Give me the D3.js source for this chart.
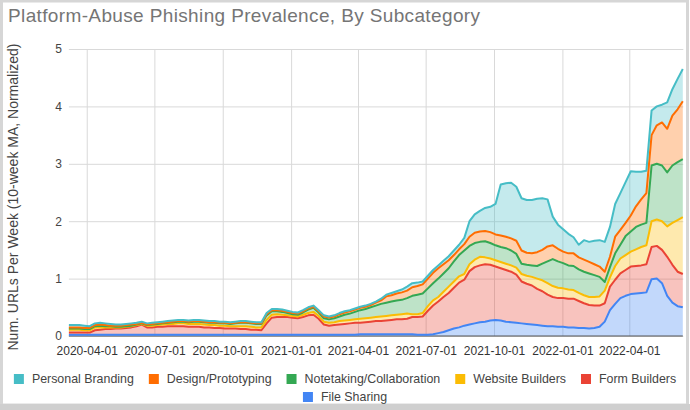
<!DOCTYPE html>
<html>
<head>
<meta charset="utf-8">
<script src="https://cdn.jsdelivr.net/npm/d3@7"></script>
<style>
body{margin:0;background:#fff}
svg{display:block}
text{font-family:Arial,"Liberation Sans",sans-serif}
</style>
</head>
<body>
<svg id="c" width="690" height="410"></svg>
<script>
// ---- data (weekly, 10-week MA, normalized) ----
const firstWeek = "2020-03-08";
const xTickLabels = ["2020-04-01","2020-07-01","2020-10-01","2021-01-01","2021-04-01","2021-07-01","2021-10-01","2022-01-01","2022-04-01"];
const yTickValues = [0,1,2,3,4,5];
const seriesNames = ["File Sharing","Form Builders","Website Builders","Notetaking/Collaboration","Design/Prototyping","Personal Branding"];

const fileSharing = [
.02,.02,.02,.02,.02,.02,.02,.02,.02,.02,
.02,.02,.02,.02,.02,.02,.02,.02,.02,.02,
.02,.02,.02,.02,.02,.02,.02,.02,.02,.02,
.02,.02,.02,.02,.02,.02,.02,.02,.02,.02,
.02,.02,.02,.02,.02,.02,.02,.02,.02,.02,
.02,.02,.02,.02,.02,.02,.03,.03,.03,.03,
.03,.03,.03,.03,.03,.03,.03,.02,.02,.02,
.03,.05,.07,.10,.13,.15,.18,.20,.22,.24,
.25,.27,.28,.27,.25,.24,.23,.22,.21,.20,
.19,.18,.17,.17,.16,.16,.15,.15,.14,.14,
.13,.14,.16,.25,.45,.56,.66,.70,.73,.74,
.75,.76,.99,1.00,.92,.70,.58,.52,.50];

const formBuilders = [
.04,.04,.04,.04,.04,.08,.09,.10,.10,.11,
.11,.12,.13,.15,.18,.13,.13,.14,.14,.15,
.15,.15,.15,.14,.14,.14,.13,.13,.12,.12,
.11,.11,.11,.10,.10,.09,.09,.08,.20,.30,
.31,.31,.31,.30,.29,.31,.34,.35,.28,.18,
.16,.17,.18,.19,.20,.21,.20,.21,.22,.23,
.23,.24,.25,.26,.26,.27,.30,.31,.32,.42,
.50,.55,.61,.65,.71,.78,.80,.93,.98,.99,
1.00,.97,.93,.91,.90,.88,.84,.73,.70,.68,
.63,.60,.55,.51,.50,.50,.50,.50,.47,.43,
.41,.39,.37,.32,.41,.42,.43,.45,.48,.48,
.48,.49,.56,.57,.58,.68,.66,.60,.58];

const websiteBuilders = [
.05,.05,.05,.04,.04,.05,.04,.03,.03,.02,
.02,.02,.02,.02,.01,.03,.03,.03,.04,.04,
.04,.05,.05,.05,.05,.05,.05,.04,.05,.04,
.05,.04,.04,.05,.05,.05,.04,.05,.06,.05,
.05,.04,.03,.03,.03,.04,.04,.05,.05,.05,
.05,.05,.06,.06,.06,.06,.07,.07,.07,.07,
.08,.08,.08,.08,.09,.09,.05,.05,.06,.08,
.09,.08,.09,.11,.11,.11,.10,.12,.13,.15,
.12,.11,.11,.11,.11,.11,.12,.13,.14,.15,
.18,.19,.20,.19,.18,.17,.16,.15,.14,.14,
.14,.15,.16,.22,.16,.24,.26,.26,.26,.29,
.32,.33,.45,.46,.50,.53,.73,.90,.99];

const notetaking = [
.02,.02,.02,.02,.02,.02,.03,.02,.02,.01,
.01,.01,.01,.01,.01,.01,.02,.02,.02,.02,
.03,.03,.03,.03,.04,.04,.04,.04,.04,.04,
.04,.04,.05,.06,.06,.06,.06,.06,.08,.06,
.05,.05,.04,.03,.03,.04,.06,.07,.06,.06,
.06,.07,.08,.10,.11,.13,.15,.16,.18,.20,
.22,.23,.24,.25,.25,.27,.32,.34,.34,.31,
.30,.32,.32,.32,.35,.37,.41,.32,.29,.26,
.28,.27,.26,.26,.27,.26,.24,.18,.19,.20,
.22,.29,.38,.47,.46,.44,.42,.42,.41,.41,
.41,.38,.34,.15,.18,.22,.24,.33,.35,.39,
.39,.39,.97,.97,.97,.94,1.00,1.01,1.01];

const designPrototyping = [
.02,.02,.02,.02,.02,.02,.02,.02,.01,.02,
.02,.02,.02,.01,.01,.01,.01,.01,.01,.01,
.01,.01,.01,.01,.01,.01,.01,.01,.01,.01,
.01,.01,.01,.01,.01,.01,.01,.01,.02,.02,
.02,.02,.02,.02,.02,.02,.02,.02,.02,.03,
.03,.03,.04,.04,.04,.04,.04,.04,.04,.05,
.06,.11,.11,.12,.13,.13,.15,.15,.16,.17,
.18,.18,.16,.14,.11,.10,.11,.16,.18,.18,
.18,.19,.19,.20,.20,.21,.23,.23,.21,.21,
.24,.24,.26,.24,.22,.20,.21,.22,.21,.21,
.20,.19,.18,.18,.18,.29,.26,.23,.28,.36,
.44,.52,.53,.67,.75,.76,.87,.92,1.01];

const personalBranding = [
.04,.04,.04,.04,.03,.03,.03,.03,.03,.02,
.02,.02,.02,.02,.02,.02,.02,.02,.02,.02,
.02,.02,.02,.02,.02,.02,.02,.02,.02,.02,
.02,.02,.02,.02,.02,.02,.02,.02,.02,.02,
.02,.02,.02,.02,.02,.02,.02,.02,.02,.02,
.02,.02,.02,.02,.02,.02,.02,.02,.02,.02,
.03,.03,.04,.04,.05,.07,.07,.06,.05,.05,
.05,.05,.06,.07,.08,.08,.11,.27,.32,.36,
.40,.44,.53,.89,.93,.97,.94,.91,.92,.93,
.93,.90,.82,.50,.42,.39,.34,.28,.22,.34,
.35,.41,.46,.52,.52,.57,.64,.71,.77,.60,
.48,.39,.43,.33,.31,.46,.46,.53,.56];

// ---- build table ----
const parse = d3.timeParse("%Y-%m-%d");
const start = parse(firstWeek);
const seriesArrays = [fileSharing, formBuilders, websiteBuilders, notetaking, designPrototyping, personalBranding];
const colors = ["#4285F4","#EA4335","#FBBC04","#34A853","#FF6D01","#46BDC6"];
const n = personalBranding.length;
const table = d3.range(n).map(i => {
  const row = {date: d3.timeDay.offset(start, 7*i)};
  seriesNames.forEach((k, j) => row[k] = seriesArrays[j][i]);
  return row;
});

const svg = d3.select("#c");
const L = 68.9, R = 682.8, T = 49, B = 336;
const x = d3.scaleTime().domain([table[0].date, table[n-1].date]).range([L, R]);
const y = d3.scaleLinear().domain([0, 5]).range([B, T]);

// frame
svg.append("rect").attr("x",0).attr("y",0).attr("width",690).attr("height",410).attr("fill","#fff");
svg.append("rect").attr("x",1.5).attr("y",1).attr("width",686).attr("height",404)
  .attr("fill","none").attr("stroke","#d6d6d6").attr("stroke-width",3);
svg.append("rect").attr("x",0).attr("y",404).attr("width",690).attr("height",6).attr("fill","#cfcfcf");

// title
svg.append("text").attr("x",8).attr("y",22).attr("font-size",19).attr("fill","#757575")
  .attr("textLength",472).attr("lengthAdjust","spacing")
  .text("Platform-Abuse Phishing Prevalence, By Subcategory");

// y axis title
svg.append("text").attr("transform","translate(18,197) rotate(-90)").attr("text-anchor","middle")
  .attr("font-size",14).attr("fill","#444")
  .text("Num. URLs Per Week (10-week MA, Normalized)");

// grid + axes
const yAxis = svg.append("g").attr("transform",`translate(${L},0)`)
  .call(d3.axisLeft(y).tickValues(yTickValues).tickFormat(d3.format("d")).tickSize(-(R-L+0.5)).tickPadding(7));
yAxis.select(".domain").remove();
yAxis.selectAll("line").attr("stroke","#d9d9d9");
yAxis.selectAll("text").attr("font-size",12).attr("fill","#444").attr("font-family","Arial,'Liberation Sans',sans-serif");

const tickDates = xTickLabels.map(parse);
const xAxis = svg.append("g").attr("transform",`translate(0,${B})`)
  .call(d3.axisBottom(x).tickValues(tickDates).tickFormat(d3.timeFormat("%Y-%m-%d")).tickSize(-(B-T)).tickPadding(10));
xAxis.select(".domain").remove();
xAxis.selectAll("line").attr("stroke","#d9d9d9");
xAxis.selectAll("text").attr("font-size",12).attr("fill","#333").attr("font-family","Arial,'Liberation Sans',sans-serif");

// stacked areas
const stack = d3.stack().keys(seriesNames);
const layers = stack(table);
const area = d3.area().x(d => x(d.data.date)).y0(d => y(d[0])).y1(d => y(d[1]));
const line = d3.line().x(d => x(d.data.date)).y(d => y(d[1]));

svg.append("g").selectAll("path").data(layers).join("path")
  .attr("d", area).attr("fill", (d,i) => colors[i]).attr("fill-opacity",0.32);

svg.append("line").attr("x1",L).attr("x2",R).attr("y1",B).attr("y2",B).attr("stroke","#555").attr("stroke-width",1);

svg.append("g").selectAll("path").data(layers).join("path")
  .attr("d", line).attr("fill","none").attr("stroke",(d,i) => colors[i])
  .attr("stroke-width",2).attr("stroke-linejoin","round");

// legend
const rows = [
  ["Personal Branding","Design/Prototyping","Notetaking/Collaboration","Website Builders","Form Builders"],
  ["File Sharing"]
];
const rowY = [379, 397];
rows.forEach((items, r) => {
  const g = svg.append("g");
  let cx = 0;
  items.forEach(name => {
    const j = seriesNames.indexOf(name);
    const it = g.append("g").attr("transform",`translate(${cx},0)`);
    it.append("rect").attr("x",0).attr("y",rowY[r]-5).attr("width",10).attr("height",10).attr("fill",colors[j]);
    const t = it.append("text").attr("x",18).attr("y",rowY[r]+4).attr("font-size",12.4).attr("fill","#444").text(name);
    cx += 18 + t.node().getComputedTextLength() + 15;
  });
  const total = cx - 15;
  g.attr("transform",`translate(${(690-total)/2},0)`);
});
</script>
</body>
</html>
